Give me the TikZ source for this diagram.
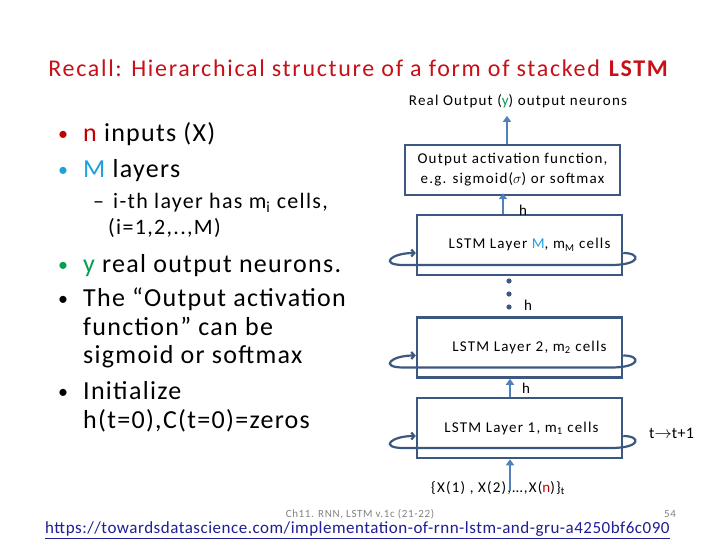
\documentclass[tikz,border=0pt]{standalone}
\usepackage{fontspec}
\setmainfont{Carlito}
\usetikzlibrary{positioning,arrows.meta,calc}

\definecolor{titolorosso}{RGB}{200,16,24}
\definecolor{rossoN}{RGB}{192,0,0}
\definecolor{cianoM}{RGB}{30,160,220}
\definecolor{verdeY}{RGB}{0,160,80}
\definecolor{bordoblu}{RGB}{60,88,128}
\definecolor{frecciablu}{RGB}{79,129,189}
\definecolor{grigio}{RGB}{130,130,130}
\definecolor{linkblu}{RGB}{30,30,150}

% spaziatura delle lettere
\newcommand{\spaz}[2]{\addfontfeature{LetterSpace=#1}\fontsize{#2}{#2}\selectfont}

% anello ricorrente attorno a uno strato
\newcommand{\anello}[1]{%
  \draw[ricorso] ($(#1.east)+(0,8)$) .. controls +(18,0) and +(30,0) .. ($(#1.east)+(-12,20)$)
    -- ($(#1.west)+(-12,20)$) .. controls +(-25,0) and +(-25,0) .. ($(#1.west)+(0,8)$);}

\begin{document}
\begin{tikzpicture}[
        x=1pt, y=-1pt,
        % blocchi della pila
        strato/.style={draw=bordoblu, line width=2.5pt, fill=white, minimum width=205pt,
            minimum height=60pt, inner sep=0pt, align=center, font=\spaz{8}{15}},
        % frecce verticali
        su/.style={draw=frecciablu, line width=2.8pt, -{Triangle[length=6pt,width=8pt]}},
        ricorso/.style={draw=bordoblu, line width=2.2pt, -{Straight Barb[length=3pt,width=7pt]}},
        % testo a sinistra
        voce/.style={inner sep=0pt, anchor=base west, font=\spaz{5}{26}},
        punto/.style={voce, font=\fontsize{20}{20}\selectfont},
        sottovoce/.style={voce, font=\spaz{6}{22}},
        etich/.style={inner sep=0pt, font=\spaz{8}{15}}
    ]
    \fill[white] (0,0) rectangle (720,540);
    \useasboundingbox (0,0) rectangle (720,540);

    % Titolo
    \node[inner sep=0pt, text=titolorosso, font=\spaz{7}{24}] (titolo) at (359,68)
        {Recall: Hierarchical structure of a form of stacked \textbf{LSTM}};

    % Elenco
    \node[punto, text=rossoN] (b1) at (58,141) {•};
    \node[voce] (v1) at (83,142) {\textcolor{rossoN}{n} inputs (X)};
    \node[punto, text=cianoM] (b2) at (58,177) {•};
    \node[voce] (v2) at (83,178) {\textcolor{cianoM}{M} layers};
    \node[sottovoce] (d1) at (93,209) {–};
    \node[sottovoce] (s1) at (113,209) {i-th layer has m\textsubscript{i} cells,};
    \node[sottovoce] (s2) at (108,234) {(i=1,2,..,M)};
    \node[punto, text=verdeY] (b3) at (58,271) {•};
    \node[voce] (v3) at (83,272) {\textcolor{verdeY}{y} real output neurons.};
    \node[punto] (b4) at (58,305) {•};
    \node[voce] (v4) at (83,306) {The “Output activation};
    \node[voce] (v4b) at (83,335) {function” can be};
    \node[voce] (v4c) at (83,363) {sigmoid or softmax};
    \node[punto] (b5) at (58,398) {•};
    \node[voce] (v5) at (83,399) {Initialize};
    \node[voce] (v5b) at (83,428) {h(t=0),C(t=0)=zeros};

    % Pila LSTM
    \node[etich] (uscita) at (518,101)
        {Real Output (\textcolor{verdeY}{y}) output neurons};
    \node[strato, minimum width=215pt, minimum height=50pt, font=\spaz{8}{15}] (attiv) at (512.5,170)
        {Output activation function,\\[5pt]e.g. sigmoid($\sigma$) or softmax};
    \node[strato] (stratoM) at (519.5,245) {\hspace*{20pt}LSTM Layer \textcolor{cianoM}{M}, m\textsubscript{M} cells};
    \node[strato] (strato2) at (519.5,347.5) {\hspace*{20pt}LSTM Layer 2, m\textsubscript{2} cells};
    \node[strato] (strato1) at (519.5,428) {\hspace*{4pt}LSTM Layer 1, m\textsubscript{1} cells};
    \node[etich] (ingressi) at (498,488)
        {\{X(1) , X(2),…,X(\textcolor{rossoN}{n})\}\textsubscript{t}};
    \node[etich, font=\spaz{2}{16}, anchor=west] (tempo) at (649,433) {t$\rightarrow$t+1};

    % anelli
    \anello{stratoM}
    \anello{strato2}
    \anello{strato1}

    % frecce
    \coordinate (xin) at (510,0);
    \coordinate (xh) at (503,0);
    \coordinate (xout) at (507,0);
    \draw[su] ([yshift=4pt]xin |- ingressi.south) -- (xin |- strato1.south);
    \draw[su] (xin |- strato1.north) -- (xin |- strato2.south);
    \draw[su] (xh |- stratoM.north) -- ([yshift=3pt]xh |- attiv.south);
    \draw[su] (xout |- attiv.north) -- ([yshift=-8pt]xout |- uscita.south);
    \foreach \yy in {281,294,307}
        \fill[bordoblu] (509,\yy) circle (2.6pt);

    \node[etich] (h1) at (526,388) {h};
    \node[etich] (h2) at (528,305) {h};
    \node[etich] (h3) at (523,210) {h};

    % Piè di pagina
    \node[inner sep=0pt, text=grigio, font=\spaz{6}{11}] (piede) at (360,514) {Ch11. RNN, LSTM v.1c (21-22)};
    \node[inner sep=0pt, text=grigio, font=\spaz{5}{11}] (pagina) at (670,514) {54};
    \node[inner sep=0pt, anchor=west, text=linkblu, font=\spaz{3}{17}] (fonte) at (45,530)
        {\underline{https://towardsdatascience.com/implementation-of-rnn-lstm-and-gru-a4250bf6c090}};
\end{tikzpicture}
\end{document}
